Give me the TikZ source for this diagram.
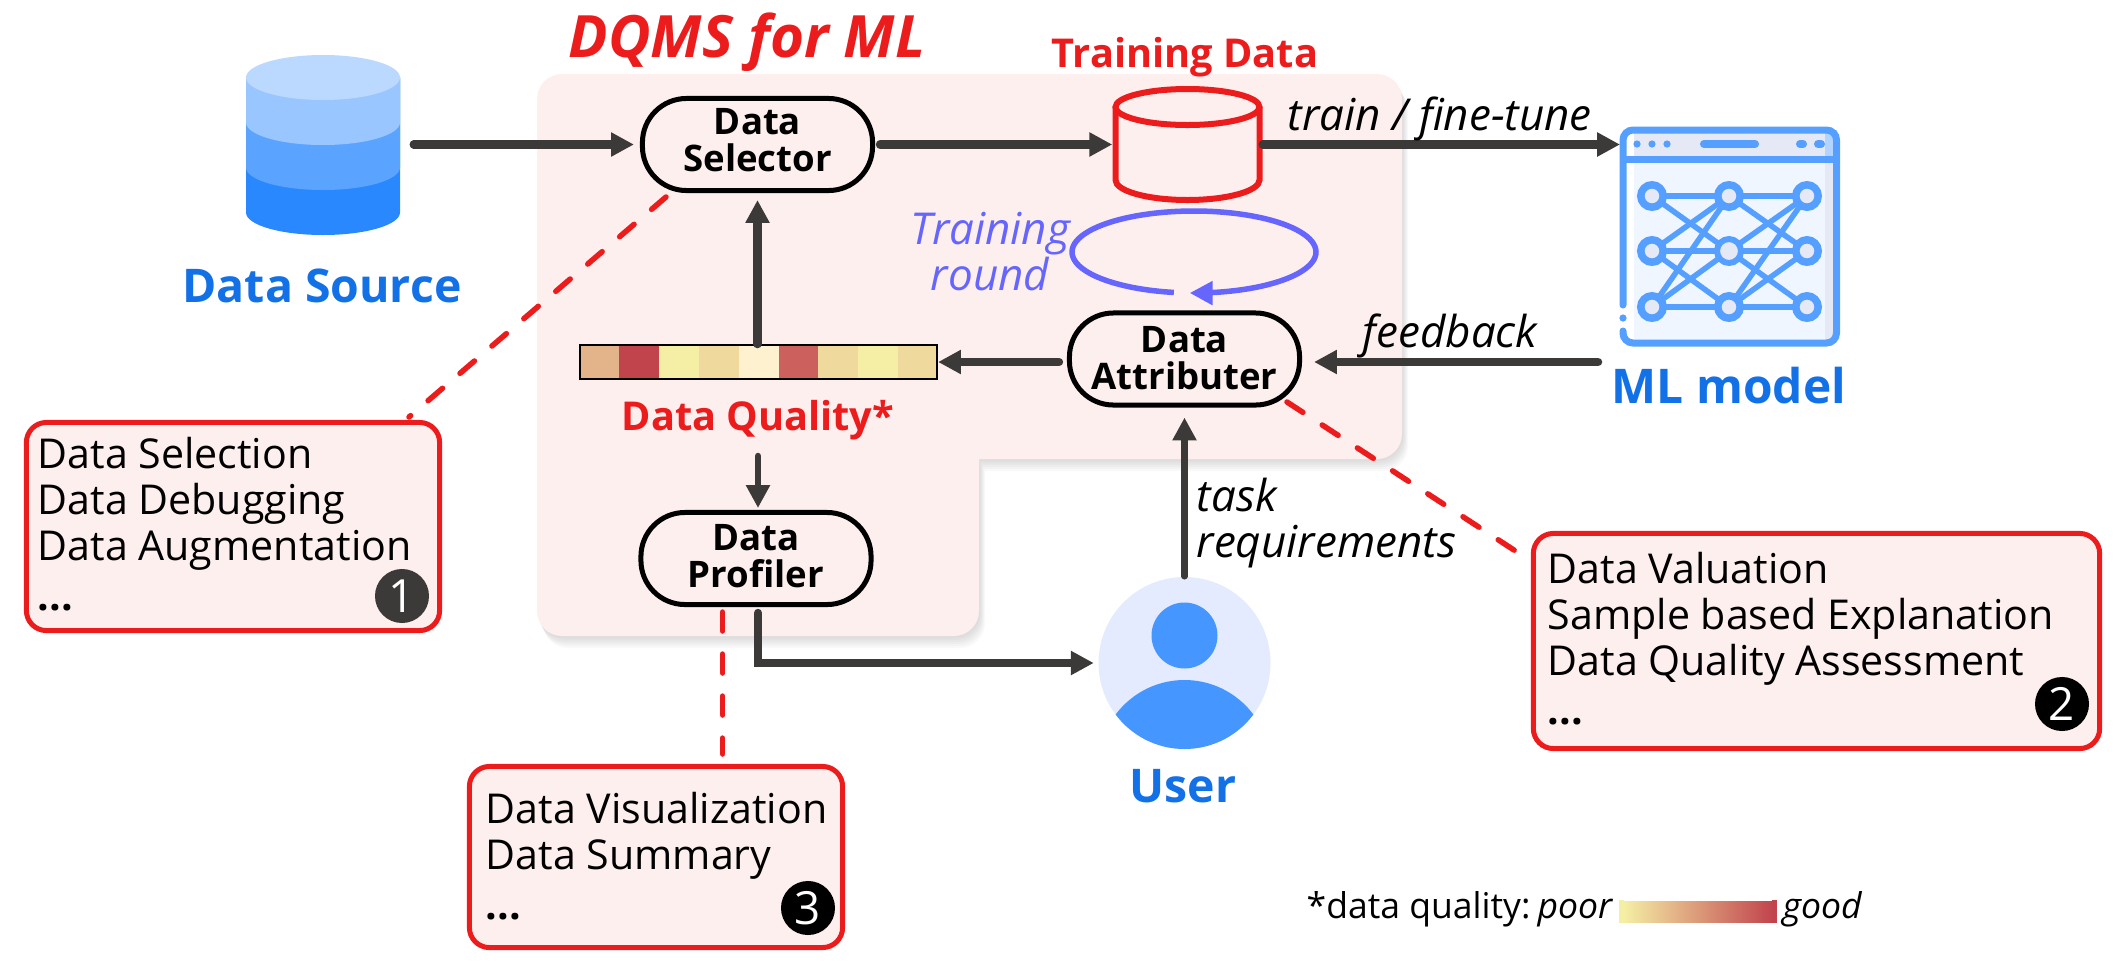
\documentclass[tikz,border=0pt]{standalone}
\usepackage{fontspec}
\setmainfont{Open Sans}
\usetikzlibrary{arrows.meta}

\definecolor{dqred}{HTML}{EC1C1C}
\definecolor{dqblue}{HTML}{1271E6}
\definecolor{dqdark}{HTML}{3B3A38}
\definecolor{dqpanel}{HTML}{FDEFEE}
\definecolor{dqpurple}{HTML}{6666FF}
\definecolor{dqicon}{HTML}{549FFF}
\definecolor{dqpale}{HTML}{E4E9F5}
\definecolor{dqsky}{HTML}{EFF6FF}
\definecolor{dquser}{HTML}{4596FF}
\definecolor{dqface}{HTML}{E4EBFF}
\definecolor{dqone}{HTML}{E3B38A}
\definecolor{dqtwo}{HTML}{C1444D}
\definecolor{dqthree}{HTML}{F5EFA5}
\definecolor{dqfour}{HTML}{EFD99C}
\definecolor{dqfive}{HTML}{FEF1CF}
\definecolor{dqsix}{HTML}{CB605C}

\tikzset{
  procbox/.style={draw=black, line width=.05cm, rounded corners=.44cm, fill=dqpanel,
    minimum width=2.30cm, minimum height=.92cm, inner sep=0pt, align=center,
    font=\fontsize{10.4}{10.6}\selectfont\bfseries},
  listbox/.style={draw=dqred, line width=.05cm, rounded corners=.2cm, fill=dqpanel, inner sep=0pt},
  listtext/.style={anchor=north west, inner sep=0pt, align=left,
    font=\fontsize{11.7}{13.05}\selectfont},
  badge/.style={circle, fill=#1, text=white, minimum size=.54cm, inner sep=0pt,
    font=\fontsize{13}{13}\selectfont},
  arrowline/.style={-{Triangle[length=6.5pt,width=6.5pt]}, draw=dqdark, line width=.085cm, line cap=round},
  dashline/.style={draw=dqred, line width=.055cm, line cap=round, dash pattern=on .19cm off .23cm},
  bluelabel/.style={text=dqblue, inner sep=0pt, font=\fontsize{13.2}{13}\selectfont\bfseries},
  redlabel/.style={text=dqred, inner sep=0pt, font=\fontsize{11.3}{11.5}\selectfont\bfseries},
  edgelabel/.style={inner sep=0pt, font=\fontsize{12.5}{13}\selectfont\itshape},
  legendlabel/.style={inner sep=0pt, anchor=base west, font=\fontsize{10.1}{10}\selectfont},
  spot/.style={inner sep=0pt, minimum width=#1},
}

\newcommand{\panelpath}{(537,74) [rounded corners=.25cm] -- (1402,74) -- (1402,459) [sharp corners] -- (979,459) [rounded corners=.25cm] -- (979,636) -- (537,636) -- cycle}

\begin{document}
\begin{tikzpicture}[x=.01cm, y=.01cm, yscale=-1]

\useasboundingbox (0,0) rectangle (2123,966);

% panel and its soft shadow
\foreach \s in {2,4,...,12}
  \fill[black, opacity=.025, shift={(\s/2,\s)}] \panelpath;
\fill[dqpanel] \panelpath;

% data source
\foreach \y/\c in {212.5/2A88FF, 167.5/5AA3FF, 122.5/99C6FF}{
  \definecolor{dqlayer}{HTML}{\c}
  \fill[dqlayer] (246,77.5) -- (246,\y) arc[start angle=180, end angle=0, x radius=77, y radius=22.5] -- (400,77.5) -- cycle;
}
\definecolor{dqlayer}{HTML}{BBD8FF}
\fill[dqlayer] (323,77.5) ellipse [x radius=77, y radius=22.5];
\node[spot=1.54cm] (source) at (323,144.5) {};
\node[bluelabel, anchor=base] (sourcelabel) at (322,302) {Data Source};

% titles
\node[anchor=base west, inner sep=0pt, text=dqred, font=\fontsize{16.6}{15}\selectfont\bfseries\itshape] (title) at (568,57) {DQMS for ML};
\node[redlabel, anchor=base] (trainlabel) at (1185,67) {Training Data};
\node[redlabel, anchor=base] (qualitylabel) at (758,430) {Data Quality*};

% training data
\fill[dqpanel, draw=dqred, line width=.06cm] (1115.5,107) -- (1115.5,180) arc[start angle=180, end angle=0, x radius=72, y radius=20] -- (1259.5,107);
\draw[dqred, line width=.06cm] (1187.5,107) ellipse [x radius=72, y radius=18];
\node[spot=1.49cm] (trainingdata) at (1187.5,144.5) {};

% boxes
\node[procbox, text depth=2.8pt] (selector) at (757.5,144.5) {Data\\Selector};
\node[procbox, text depth=.8pt] (attributer) at (1184.5,359) {Data\\Attributer};
\node[procbox, text depth=1.5pt] (profiler) at (756,558.5) {Data\\Profiler};

% training round
\draw[dqpurple, line width=.055cm, -{Triangle[length=6.5pt,width=6.5pt]}, samples=100, smooth, domain=99.5:452, variable=\t]
  plot ({1194+122*cos(\t)}, {252+41*sin(\t)});
\node[edgelabel, text=dqpurple, align=center, anchor=north] (roundlabel) at (990,212) {Training\\round};

% quality bar
\foreach \i/\c in {0/dqone,1/dqtwo,2/dqthree,3/dqfour,4/dqfive,5/dqsix,6/dqfour,7/dqthree,8/dqfour}
  \fill[\c] ({579+39.9*\i},344) rectangle ++(39.9,36);
\node[draw=black, line width=.02cm, minimum width=3.57cm, minimum height=.34cm, inner sep=0pt] (qualitybar) at (758.5,362) {};

% model icon
\fill[white, rounded corners=.1cm] (1623,130) rectangle (1836.5,343);
\fill[dqsky] (1634,159) rectangle (1825,340);
\fill[dqpale] (1825,159) rectangle (1836.5,340);
\fill[dqpale] (1634,130) rectangle (1825,159);
\fill[dqicon!45!white] (1825,130) rectangle (1836.5,159);
\draw[dqicon, line width=.07cm, line cap=round, rounded corners=.1cm] (1623,331) -- (1623,343) -- (1836.5,343) -- (1836.5,130) -- (1623,130) -- (1623,305);
\fill[dqicon] (1623,318) circle (3.6);
\draw[dqicon, line width=.07cm] (1623,159.5) -- (1836.5,159.5);
\foreach \x in {1637,1652,1667}
  \fill[dqicon] (\x,144) circle (3.6);
\draw[dqicon, line width=.08cm, line cap=round] (1704,144) -- (1755,144);
\draw[dqicon, line width=.08cm, line cap=round] (1800,144) -- (1803,144);
\draw[dqicon, line width=.08cm, line cap=round] (1818,144) -- (1821,144);
\foreach \a/\p/\b/\q in {1652/196/1729/196, 1652/196/1729/251,
    1652/251/1729/196, 1652/251/1729/251, 1652/251/1729/307,
    1652/307/1729/196, 1652/307/1729/251, 1652/307/1729/307,
    1729/196/1807/196, 1729/196/1807/251,
    1729/251/1807/196, 1729/251/1807/251, 1729/251/1807/307,
    1729/307/1807/196, 1729/307/1807/251, 1729/307/1807/307}
  \draw[dqicon, line width=.055cm] (\a,\p) -- (\b,\q);
\foreach \x in {1652,1729,1807}
  \foreach \y in {196,251,307}
    \draw[dqicon, fill=dqpale, line width=.075cm] (\x,\y) circle (11.2);
\draw[dqicon, fill=dqpale, line width=.05cm] (1729,251) circle (11.5);
\coordinate (modelin) at (1620,144.5);
\coordinate (modelout) at (1598,362);
\node[bluelabel, anchor=base, font=\fontsize{13.6}{13}\selectfont\bfseries] (modellabel) at (1729,403) {ML model};

% user
\fill[dqface] (1184.5,663) circle (86);
\begin{scope}
  \clip (1184.5,663) circle (86);
  \fill[dquser] (1184.5,766) circle (86);
\end{scope}
\fill[dquser] (1184.5,635.5) circle (33);
\node[circle, minimum size=1.72cm, inner sep=0pt] (user) at (1184.5,663) {};
\node[bluelabel, anchor=base] (userlabel) at (1183,802) {User};

% list boxes
\node[listbox, minimum width=4.13cm, minimum height=2.08cm] (selectbox) at (233,526.5) {};
\node[listtext] (selecttext) at (37,437) {Data Selection\\Data Debugging\\Data Augmentation\\[1pt]\textbf{...}};
\node[badge=dqdark] (badgeone) at (402,596) {1};

\node[listbox, minimum width=5.66cm, minimum height=2.15cm] (attributebox) at (1816.5,641) {};
\node[listtext] (attributetext) at (1547,552) {Data Valuation\\Sample based Explanation\\Data Quality Assessment\\[.8pt]\textbf{...}};
\node[badge=black] (badgetwo) at (2062,704) {2};

\node[listbox, minimum width=3.73cm, minimum height=1.81cm] (profilebox) at (656,857) {};
\node[listtext] (profiletext) at (485,792) {Data Visualization\\Data Summary\\[1pt]\textbf{...}};
\node[badge=black] (badgethree) at (808,908) {3};

% connectors
\coordinate (qualityout) at (758,456);
\coordinate (selectordash) at (666,197);
\coordinate (selectboxdash) at (409,417);
\coordinate (attributerdash) at (1287,402);
\coordinate (attributeboxdash) at (1517,552);
\coordinate (profilerdash) at (722.6,612);
\coordinate (profileboxdash) at (722.6,754);
\draw[arrowline, shorten <=.13cm, shorten >=.06cm] (source.east) -- (selector.west);
\draw[arrowline, shorten <=.05cm] (selector.east) -- (trainingdata.west);
\draw[arrowline] (trainingdata.east) -- (modelin);
\draw[arrowline, shorten >=.12cm] (modelout) -- (attributer.east |- modelout);
\draw[arrowline, shorten <=.08cm] (attributer.west |- qualitybar.east) -- (qualitybar.east);
\draw[arrowline, shorten >=.07cm] (qualitybar.north -| selector.south) -- (selector.south);
\draw[arrowline, line width=.065cm, shorten >=.02cm] (qualityout) -- (profiler.north -| qualityout);
\draw[arrowline, shorten <=.06cm, shorten >=.04cm] (profiler.south -| qualityout) |- (user.west);
\draw[arrowline, line width=.065cm, shorten >=.1cm] (user.north) -- (attributer.south);

\draw[dashline] (selectordash) -- (selectboxdash);
\draw[dashline] (attributerdash) -- (attributeboxdash);
\draw[dashline] (profilerdash) -- (profileboxdash);

% edge labels
\node[edgelabel, anchor=base west] (trainedge) at (1287,130) {train / fine-tune};
\node[edgelabel, anchor=base west] (feedbackedge) at (1362,347) {feedback};
\node[edgelabel, anchor=base west] (taskedge) at (1196,511) {task};
\node[edgelabel, anchor=base west] (reqedge) at (1196,557) {requirements};

% legend
\node[legendlabel] (legendtext) at (1306,918) {*data quality:};
\node[legendlabel, font=\fontsize{10.1}{10}\selectfont\itshape] (poorlabel) at (1537,918) {poor};
\shade[left color=dqthree, right color=dqtwo] (1623,901) rectangle (1773,922);
\fill[dqthree] (1619,900) rectangle (1624,923);
\fill[dqtwo] (1772,900) rectangle (1777,923);
\node[legendlabel, font=\fontsize{10.1}{10}\selectfont\itshape] (goodlabel) at (1782,918) {good};

\end{tikzpicture}
\end{document}
